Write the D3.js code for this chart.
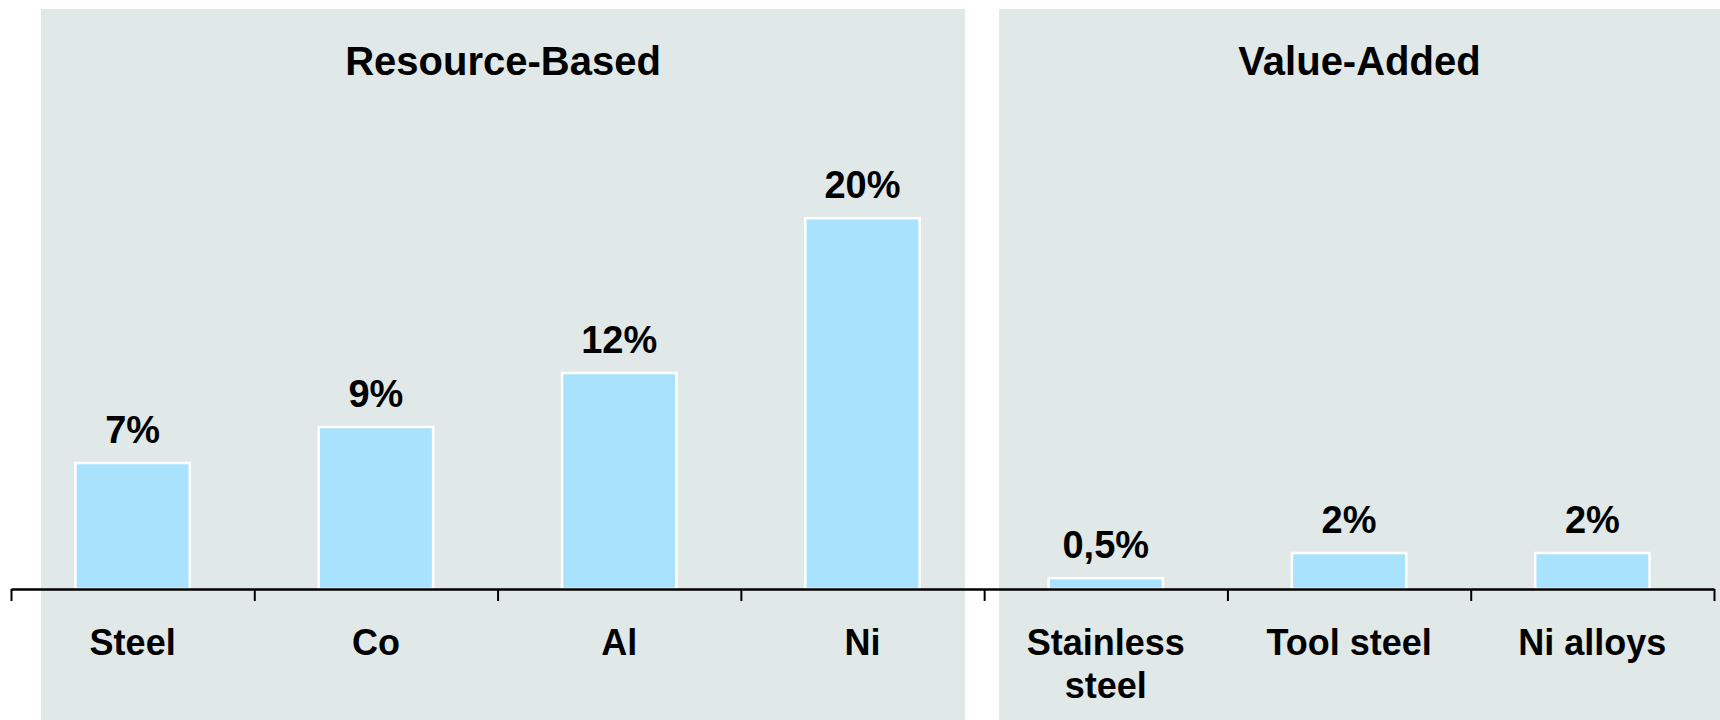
<!DOCTYPE html>
<html>
<head>
<meta charset="utf-8">
<script src="https://cdn.jsdelivr.net/npm/d3@7"></script>
<style>
  html, body { margin: 0; padding: 0; background: #ffffff; }
  svg { display: block; }
  text { font-family: "Liberation Sans", Arial, sans-serif; font-weight: bold; fill: #000; }
</style>
</head>
<body>
<svg id="chart" width="1720" height="720"></svg>
<script>
// ---- data ----
const categories = ["Steel", "Co", "Al", "Ni", "Stainless steel", "Tool steel", "Ni alloys"];
const values = [7, 9, 12, 20.6, 0.6, 2, 2];
const valueLabels = ["7%", "9%", "12%", "20%", "0,5%", "2%", "2%"];
const groups = ["Resource-Based", "Value-Added"];
const groupSizes = [4, 3];

// ---- layout ----
const svg = d3.select("#chart");
const W = 1720, H = 720;
const axisY = 589;
const x = d3.scaleBand().domain(categories).range([11, 1714]).paddingInner(0.53).paddingOuter(0.265);
const y = d3.scaleLinear().domain([0, 20]).range([axisY, axisY - 360]);

// panels
const panels = [
  { x0: 41, x1: 965 },
  { x0: 999, x1: 1720 }
];
svg.selectAll("rect.panel").data(panels).join("rect")
  .attr("class", "panel")
  .attr("x", d => d.x0).attr("y", 9)
  .attr("width", d => d.x1 - d.x0).attr("height", H - 9)
  .attr("fill", "#E0E8E8");

svg.selectAll("text.gtitle").data(groups).join("text")
  .attr("class", "gtitle")
  .attr("x", (d, i) => (panels[i].x0 + panels[i].x1) / 2)
  .attr("y", 75)
  .attr("text-anchor", "middle")
  .attr("font-size", 40)
  .text(d => d);

// bars
svg.selectAll("rect.bar").data(categories).join("rect")
  .attr("class", "bar")
  .attr("x", d => x(d))
  .attr("width", x.bandwidth())
  .attr("y", (d, i) => y(values[i]))
  .attr("height", (d, i) => axisY - y(values[i]))
  .attr("fill", "#A8E2FC")
  .attr("stroke", "#ffffff")
  .attr("stroke-width", 2.5);

// value labels
svg.selectAll("text.vlab").data(categories).join("text")
  .attr("class", "vlab")
  .attr("x", d => x(d) + x.bandwidth() / 2)
  .attr("y", (d, i) => y(values[i]) - 20)
  .attr("text-anchor", "middle")
  .attr("font-size", 38)
  .text((d, i) => valueLabels[i]);

// axis with ticks at category boundaries
const xb = d3.scaleLinear().domain([0, categories.length]).range([11, 1714]);
const axis = svg.append("g").attr("transform", `translate(0,${axisY})`)
  .call(d3.axisBottom(xb).tickValues(d3.range(categories.length + 1)).tickSize(12).tickSizeOuter(0).tickFormat(""));
axis.select(".domain").attr("stroke", "#000").attr("stroke-width", 2.5);
axis.selectAll(".tick line").attr("stroke", "#000").attr("stroke-width", 2);

// category labels
svg.selectAll("text.clab").data(categories).join("text")
  .attr("class", "clab")
  .attr("x", d => x(d) + x.bandwidth() / 2)
  .attr("y", 655)
  .attr("text-anchor", "middle")
  .attr("font-size", 36)
  .each(function(d) {
    const t = d3.select(this);
    const lines = d === "Stainless steel" ? ["Stainless", "steel"] : [d];
    lines.forEach((l, k) => {
      t.append("tspan").attr("x", x(d) + x.bandwidth() / 2).attr("dy", k === 0 ? 0 : 43).text(l);
    });
  });
</script>
</body>
</html>
